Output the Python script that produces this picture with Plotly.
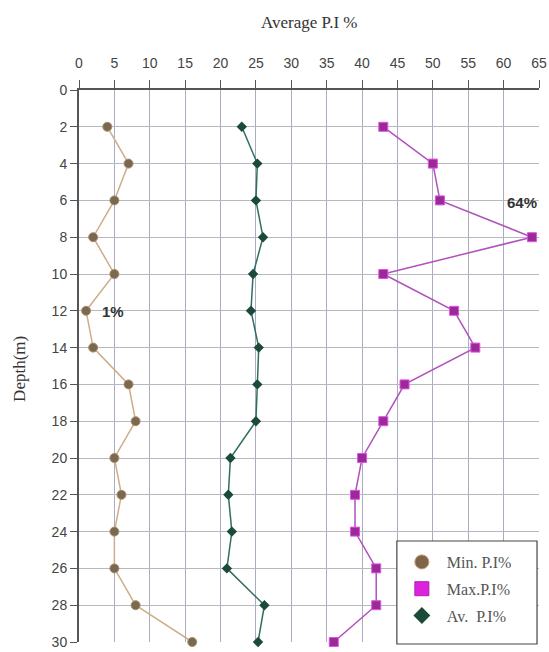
import plotly.graph_objects as go

depth = [2, 4, 6, 8, 10, 12, 14, 16, 18, 20, 22, 24, 26, 28, 30]
min_pi = [4, 7, 5, 2, 5, 1, 2, 7, 8, 5, 6, 5, 5, 8, 16]
max_pi = [43, 50, 51, 64, 43, 53, 56, 46, 43, 40, 39, 39, 42, 42, 36]
av_pi = [23, 25.2, 25, 26, 24.6, 24.3, 25.4, 25.2, 25, 21.4, 21.1, 21.6, 20.9, 26.2, 25.3]
x_ticks = list(range(0, 70, 5))
y_ticks = list(range(0, 32, 2))

fig = go.Figure()
fig.add_trace(go.Scatter(
    x=min_pi, y=depth, name="Min. P.I%", mode="lines+markers", showlegend=False,
    line=dict(color="#CDAE88", width=1.5),
    marker=dict(symbol="circle", size=9, color="#7A6850", line=dict(color="#A88E68", width=1)),
    cliponaxis=False))
fig.add_trace(go.Scatter(
    x=max_pi, y=depth, name="Max.P.I%", mode="lines+markers", showlegend=False,
    line=dict(color="#B052BC", width=1.5),
    marker=dict(symbol="square", size=9, color="#9A2A96", line=dict(color="#E050E8", width=1)),
    cliponaxis=False))
fig.add_trace(go.Scatter(
    x=av_pi, y=depth, name="Av.  P.I%", mode="lines+markers", showlegend=False,
    line=dict(color="#2F6E60", width=1.5),
    marker=dict(symbol="diamond", size=8, color="#1B4A38"),
    cliponaxis=False))

# legend-only entries (markers only, as in the reference legend)
fig.add_trace(go.Scatter(x=[None], y=[None], name="Min. P.I%", mode="markers", legendgroup="a",
                         marker=dict(symbol="circle", size=14, color="#7E6548", line=dict(color="#C09870", width=1))))
fig.add_trace(go.Scatter(x=[None], y=[None], name="Max.P.I%", mode="markers", legendgroup="b",
                         marker=dict(symbol="square", size=14, color="#DD22DD", line=dict(color="#B020B0", width=1))))
fig.add_trace(go.Scatter(x=[None], y=[None], name="Av.  P.I%", mode="markers", legendgroup="c",
                         marker=dict(symbol="diamond", size=13, color="#1B4A38")))

fig.add_annotation(x=65, y=6.1, text="<b>64%</b>", showarrow=False,
                   xanchor="right", yanchor="middle",
                   font=dict(family="Arial, Liberation Sans", size=15, color="#333"))
fig.add_annotation(x=3.0, y=12.05, text="<b>1%</b>", showarrow=False,
                   xanchor="left", yanchor="middle",
                   font=dict(family="Arial, Liberation Sans", size=15, color="#333"))

# axis titles
fig.add_annotation(x=0.5, xref="paper", y=1.123, yref="paper", text="Average P.I %",
                   xanchor="center", yanchor="middle",
                   showarrow=False, font=dict(family="Liberation Serif, Times New Roman", size=17, color="#333"))
fig.add_annotation(x=-0.128, xref="paper", y=0.495, yref="paper", text="Depth(m)", textangle=-90,
                   xanchor="center", yanchor="middle",
                   showarrow=False, font=dict(family="Liberation Serif, Times New Roman", size=17, color="#333"))

# legend frame
fig.add_shape(type="rect", xref="paper", yref="paper", x0=0.691, x1=0.9957, y0=-0.0036, y1=0.183,
              line=dict(color="#444", width=1.2), fillcolor="white", layer="above")

fig.update_layout(
    width=549, height=652,
    margin=dict(l=79, r=10, t=90, b=10, autoexpand=False),
    paper_bgcolor="white", plot_bgcolor="white",
    font=dict(family="Liberation Sans, Arial", size=14, color="#444"),
    xaxis=dict(
        side="top", range=[0, 65], tickvals=x_ticks, automargin=False,
        showgrid=True, gridcolor="#ABABC2", gridwidth=1,
        showline=True, linecolor="#555", linewidth=2,
        ticks="outside", ticklen=8, tickcolor="#555", ticklabelstandoff=6,
        zeroline=False, fixedrange=True,
    ),
    yaxis=dict(
        range=[30, 0], tickvals=y_ticks, automargin=False,
        showgrid=True, gridcolor="#B8B8C4", gridwidth=1,
        showline=True, linecolor="#555", linewidth=2,
        ticks="outside", ticklen=7, tickcolor="#555",
        ticksuffix="\u00a0\u00a0",
        zeroline=False, fixedrange=True,
    ),
    legend=dict(
        x=0.691, y=0.1757, xanchor="left", yanchor="top",
        bgcolor="rgba(0,0,0,0)", borderwidth=0,
        font=dict(family="Liberation Serif, Times New Roman", size=16, color="#555"),
        itemsizing="trace", itemwidth=40, tracegroupgap=3,
    ),
    showlegend=True,
)

fig.write_html("out.html", config={"displayModeBar": False},
               post_script="document.body.style.margin='0';document.body.style.overflow='hidden';")
